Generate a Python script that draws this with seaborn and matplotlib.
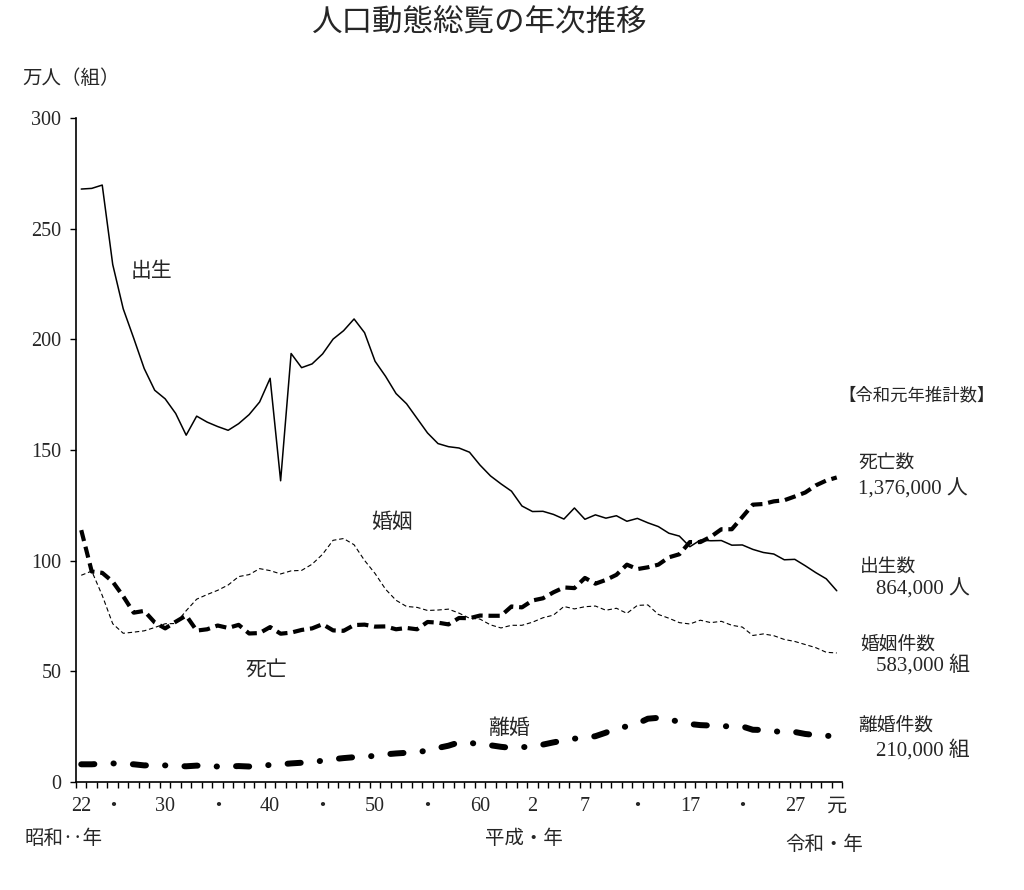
import numpy as np
import pandas as pd
import matplotlib
matplotlib.use("Agg")
import matplotlib.pyplot as plt
import seaborn as sns

# 年次（昭和22年〜令和元年）
years = np.arange(1947, 2020)

# 出生数（万人）
births = [
    267.9, 268.2, 269.7, 233.8, 213.8, 200.5, 186.8, 177.0, 173.1, 166.5,
    156.7, 165.3, 162.6, 160.6, 158.9, 161.9, 166.0, 171.7, 182.4, 136.1,
    193.6, 187.2, 188.9, 193.4, 200.1, 203.9, 209.2, 203.0, 190.1, 183.3,
    175.5, 170.9, 164.3, 157.7, 152.9, 151.5, 150.9, 149.0, 143.2, 138.3,
    134.7, 131.4, 124.7, 122.2, 122.3, 120.9, 118.8, 123.8, 118.7, 120.7,
    119.2, 120.3, 117.8, 119.1, 117.1, 115.4, 112.4, 111.1, 106.3, 109.3,
    109.0, 109.1, 107.0, 107.1, 105.1, 103.7, 103.0, 100.4, 100.6, 97.7,
    94.6, 91.8, 86.4,
]

# 死亡数（万人）
deaths = [
    113.8, 95.1, 94.5, 90.5, 83.9, 76.5, 77.3, 72.1, 69.4, 72.4,
    75.2, 68.4, 69.0, 70.7, 69.6, 71.0, 67.1, 67.3, 70.0, 67.0,
    67.5, 68.7, 69.4, 71.3, 68.5, 68.3, 70.9, 71.1, 70.2, 70.3,
    69.0, 69.6, 69.0, 72.3, 72.0, 71.2, 74.1, 74.0, 75.2, 75.1,
    75.1, 79.3, 78.9, 82.0, 83.0, 85.7, 87.9, 87.6, 92.2, 89.6,
    91.3, 93.6, 98.2, 96.2, 97.0, 98.2, 101.5, 102.9, 108.4, 108.4,
    110.8, 114.2, 114.2, 119.7, 125.3, 125.6, 126.8, 127.3, 129.0, 130.8,
    134.0, 136.2, 137.6,
]

# 婚姻件数（万組）
marriages = [
    93.4, 95.3, 84.3, 71.5, 67.2, 67.7, 68.3, 69.8, 71.5, 71.6,
    77.4, 82.6, 84.7, 86.6, 89.0, 92.8, 93.7, 96.4, 95.5, 94.0,
    95.4, 95.6, 98.4, 102.9, 109.2, 110.0, 107.2, 100.1, 94.2, 87.1,
    82.1, 79.3, 78.9, 77.5, 77.7, 78.1, 76.3, 74.0, 73.6, 71.0,
    69.6, 70.8, 70.8, 72.2, 74.2, 75.4, 79.3, 78.2, 79.2, 79.5,
    77.6, 78.5, 76.2, 79.8, 80.0, 75.7, 74.0, 72.0, 71.4, 73.1,
    72.0, 72.6, 70.8, 70.0, 66.2, 66.9, 66.1, 64.4, 63.5, 62.1,
    60.7, 58.6, 58.3,
]

# 離婚件数（万組）
divorces = [
    8.0, 8.0, 8.3, 8.4, 8.2, 8.0, 7.5, 7.6, 7.5, 7.2,
    7.1, 7.4, 7.2, 7.0, 7.0, 7.2, 7.0, 7.3, 7.7, 8.0,
    8.4, 8.7, 9.1, 9.6, 10.3, 10.8, 11.2, 11.3, 11.9, 12.5,
    12.9, 13.2, 13.5, 14.2, 15.4, 16.4, 17.9, 17.9, 16.7, 16.6,
    15.9, 15.4, 15.8, 15.8, 16.9, 17.9, 18.8, 19.6, 19.9, 20.7,
    22.3, 24.3, 25.1, 26.4, 28.6, 29.0, 28.4, 27.1, 26.2, 25.7,
    25.5, 25.1, 25.3, 25.1, 23.6, 23.5, 23.1, 22.2, 22.6, 21.7,
    21.2, 20.8, 21.0,
]

# 目盛ラベル
tick_years = [1947, 1950, 1955, 1960, 1965, 1970, 1975, 1980, 1985,
              1990, 1995, 2000, 2005, 2010, 2015, 2019]
tick_labels = ["22", "・", "30", "・", "40", "・", "50", "・", "60",
               "2", "7", "・", "17", "・", "27", "元"]

df = pd.DataFrame({
    "year": years,
    "births": births,
    "deaths": deaths,
    "marriages": marriages,
    "divorces": divorces,
})

sns.set_theme(style="ticks")
plt.rcParams["font.family"] = ["Noto Sans CJK JP", "DejaVu Sans"]
JP = ["Noto Sans CJK JP", "DejaVu Sans"]
NUM = ["Liberation Serif", "Noto Sans CJK JP"]

W, H = 1024, 890
fig = plt.figure(figsize=(W / 100, H / 100), dpi=100)
ax = fig.add_axes([76 / W, 1 - 782 / H, (842 - 76) / W, (782 - 118) / H])

# 出生
sns.lineplot(data=df, x="year", y="births", ax=ax, color="black",
             linewidth=1.1, linestyle="-")
# 死亡
sns.lineplot(data=df, x="year", y="deaths", ax=ax, color="black",
             linewidth=3.0, linestyle=(0, (2.7, 1.4)), dash_capstyle="butt")
# 婚姻
sns.lineplot(data=df, x="year", y="marriages", ax=ax, color="black",
             linewidth=0.8, linestyle=(0, (4, 2.5)))
# 離婚
sns.lineplot(data=df, x="year", y="divorces", ax=ax, color="black",
             linewidth=4.3, linestyle=(0, (2.2, 3.2, 0.05, 3.2)),
             dash_capstyle="round")

ax.set_xlim(1946.5, 2019.5)
ax.set_ylim(0, 300)
ax.set_xlabel("")
ax.set_ylabel("")

sns.despine(ax=ax)
for s in ["left", "bottom"]:
    ax.spines[s].set_linewidth(1.2)
    ax.spines[s].set_color("black")

ax.set_yticks([0, 50, 100, 150, 200, 250, 300])
ax.tick_params(axis="y", direction="out", length=4.5, width=1.0,
               color="black", pad=6, labelsize=14.5)
for lab in ax.get_yticklabels():
    lab.set_family(NUM)

ax.set_xticks(tick_years)
ax.set_xticklabels(tick_labels)
ax.set_xticks(np.arange(1946.5, 2020, 1.0), minor=True)
ax.tick_params(axis="x", which="major", length=0, pad=11, labelsize=14.5)
ax.tick_params(axis="x", which="minor", direction="out", length=4.5,
               width=1.0, color="black")
for lab in ax.get_xticklabels():
    lab.set_family(NUM)

# 系列名
ax.text(1953.7, 231, "出生", fontsize=15, ha="center", va="center", family=JP)
ax.text(1976.6, 117.5, "婚姻", fontsize=15, ha="center", va="center", family=JP)
ax.text(1964.6, 50.6, "死亡", fontsize=15, ha="center", va="center", family=JP)
ax.text(1987.8, 24.4, "離婚", fontsize=15, ha="center", va="center", family=JP)


def ftext(x, y, s, size=13.5, ha="left", fam=JP):
    fig.text(x / W, 1 - y / H, s, fontsize=size, ha=ha, va="center", family=fam)


ftext(480, 22, "人口動態総覧の年次推移", size=22, ha="center")
ftext(22, 78, "万人（組）", size=14)

ftext(838, 395, "【令和元年推計数】", size=12.5)
ftext(858, 463, "死亡数")
ftext(858, 489, "1,376,000 人", size=15, fam=NUM)
ftext(860, 566, "出生数")
ftext(876, 589, "864,000 人", size=15, fam=NUM)
ftext(860, 644, "婚姻件数")
ftext(876, 665, "583,000 組", size=15, fam=NUM)
ftext(858, 725, "離婚件数")
ftext(876, 750, "210,000 組", size=15, fam=NUM)

ftext(25, 838, "昭和‥年", size=14)
ftext(485, 838, "平成・年", size=14)
ftext(785, 845, "令和・年", size=14)

fig.savefig("out.png", dpi=100, facecolor="white")
